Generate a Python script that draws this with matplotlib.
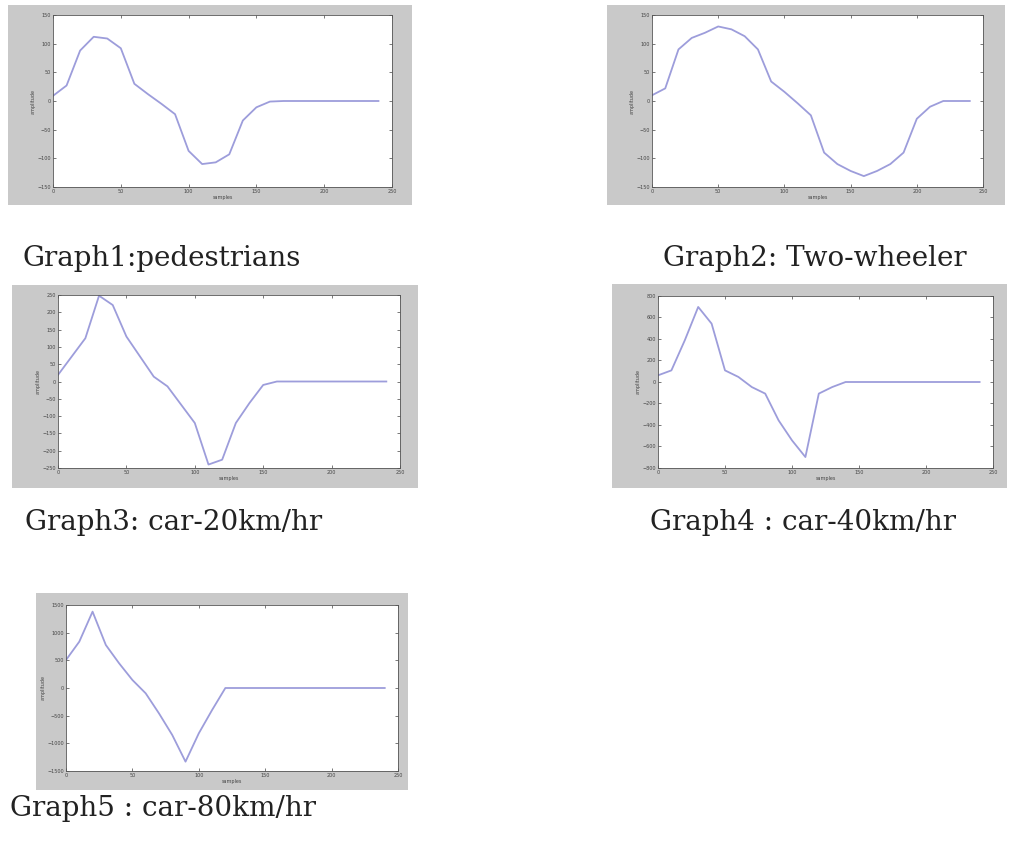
import matplotlib
matplotlib.use("Agg")
import matplotlib.pyplot as plt
from matplotlib.patches import Rectangle

W, H = 1009, 850

samples = [0, 10, 20, 30, 40, 50, 60, 70, 80, 90, 100, 110, 120, 130, 140, 150,
           160, 170, 180, 190, 200, 210, 220, 230, 240]

pedestrians = [9, 27, 88, 112, 109, 92, 30, 12, -5, -23, -87, -110, -107, -93, -34, -11,
               -1, 0, 0, 0, 0, 0, 0, 0, 0]
two_wheeler = [10, 22, 90, 110, 119, 130, 125, 113, 90, 34, 16, -4, -25, -90, -110, -122,
               -131, -122, -110, -90, -31, -10, 0, 0, 0]
car_20 = [19, 72, 125, 248, 221, 130, 72, 14, -14, -67, -120, -240, -226, -120, -62, -10,
          0, 0, 0, 0, 0, 0, 0, 0, 0]
car_40 = [62, 108, 388, 698, 543, 108, 47, -47, -108, -357, -543, -698, -108, -47, 0, 0,
          0, 0, 0, 0, 0, 0, 0, 0, 0]
car_80 = [506, 837, 1380, 777, 446, 145, -96, -458, -849, -1331, -819, -398, 0, 0, 0, 0,
          0, 0, 0, 0, 0, 0, 0, 0, 0]

captions = ["Graph1:pedestrians", "Graph2: Two-wheeler", "Graph3: car-20km/hr",
            "Graph4 : car-40km/hr", "Graph5 : car-80km/hr"]
series = [pedestrians, two_wheeler, car_20, car_40, car_80]
ylims = [(-150, 150), (-150, 150), (-250, 250), (-800, 800), (-1500, 1500)]
ysteps = [50, 50, 50, 200, 500]
xticks = [0, 50, 100, 150, 200, 250]

# layout in pixels: gray box (x0, y0, x1, y1), axes (x0, y0, x1, y1), caption (x, baseline)
boxes = [(8, 5, 412, 205), (607, 5, 1005, 205), (12, 285, 418, 488),
         (612, 284, 1007, 488), (36, 593, 408, 790)]
axboxes = [(53, 15, 392, 187), (652, 15, 983, 187), (58, 295, 400, 468),
           (658, 296, 993, 468), (66, 605, 398, 771)]
cappos = [(22, 266), (663, 266), (25, 530), (650, 530), (10, 816)]

fig = plt.figure(figsize=(W / 100, H / 100), dpi=100)
fig.patch.set_facecolor("white")

for i in range(5):
    bx0, by0, bx1, by1 = boxes[i]
    fig.add_artist(Rectangle((bx0 / W, 1 - by1 / H), (bx1 - bx0) / W, (by1 - by0) / H,
                             transform=fig.transFigure, facecolor="#c9c9c9",
                             edgecolor="none", zorder=-10))
    ax0, ay0, ax1, ay1 = axboxes[i]
    ax = fig.add_axes([ax0 / W, 1 - ay1 / H, (ax1 - ax0) / W, (ay1 - ay0) / H], zorder=1)
    ax.set_facecolor("white")
    ax.plot(samples, series[i], color="#9d9ddb", lw=1.3)
    ax.set_xlim(0, 250)
    lo, hi = ylims[i]
    ax.set_ylim(lo, hi)
    ax.set_xticks(xticks)
    ax.set_yticks(list(range(lo, hi + 1, ysteps[i])))
    ax.tick_params(direction="in", top=True, right=True, length=2, width=0.5,
                   labelsize=3.5, colors="#444444", pad=1.5)
    for s in ax.spines.values():
        s.set_linewidth(0.6)
        s.set_color("#555555")
    ax.set_xlabel("samples", fontsize=3.5, color="#444444", labelpad=1)
    ax.set_ylabel("amplitude", fontsize=3.5, color="#444444", labelpad=1)
    cx, cy = cappos[i]
    fig.text(cx / W, 1 - cy / H, captions[i], family=["DejaVu Serif"],
             fontsize=20, color="#222222", ha="left", va="baseline", zorder=2)

fig.savefig("out.png", dpi=100)
